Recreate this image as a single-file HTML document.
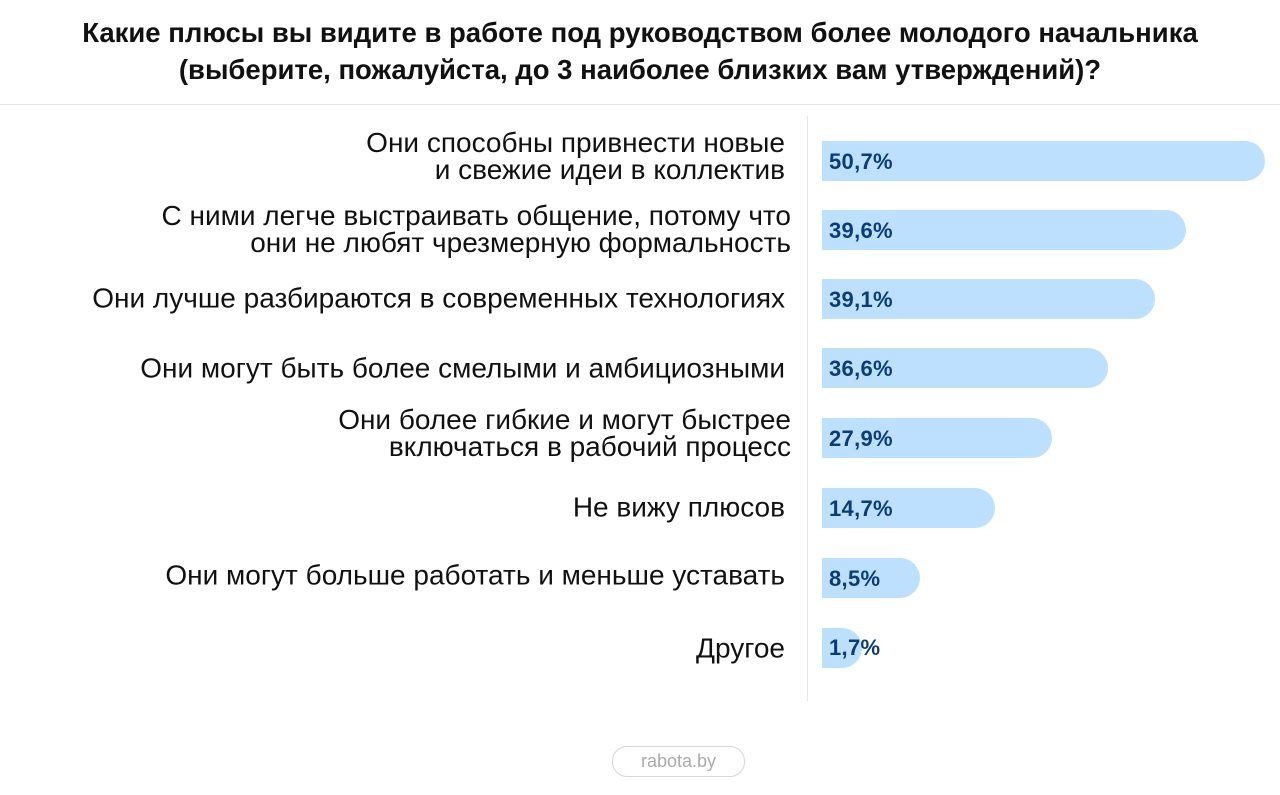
<!DOCTYPE html>
<html><head><meta charset="utf-8"><style>
body{margin:0;width:1280px;height:795px;background:#fff;font-family:"Liberation Sans",sans-serif;position:relative;overflow:hidden}
.t{position:absolute;left:0;width:1280px;text-align:center;font-weight:bold;font-size:27.5px;color:#111;line-height:37px;top:14px;letter-spacing:0px}
.sep{position:absolute;left:0;top:104px;width:1280px;height:1px;background:#e6e6e6}
.vl{position:absolute;left:807px;top:116px;width:1px;height:585px;background:#e4e4e4}
.lab{position:absolute;right:495px;text-align:right;font-size:28px;line-height:27px;color:#111;transform:translateY(-50%);white-space:nowrap;letter-spacing:0px}
.bar{position:absolute;left:822px;height:40px;background:#bde0fe;border-radius:0 20px 20px 0;transform:translateY(-50%)}
.v{position:absolute;left:829px;font-weight:bold;font-size:22px;color:#0b3c78;transform:translateY(-50%);line-height:24px;letter-spacing:0.3px}
.pill{position:absolute;left:612px;top:746px;width:131px;height:29px;border:1px solid #d6d6d6;border-radius:15px;text-align:center;line-height:29px;font-size:18px;color:#aaa}
</style></head><body>
<div class="t">Какие плюсы вы видите в работе под руководством более молодого начальника<br>(выберите, пожалуйста, до 3 наиболее близких вам утверждений)?</div>
<div class="sep"></div><div class="vl"></div>

<div class="lab" style="top:156px">Они способны привнести новые<br>и свежие идеи в коллектив</div>
<div class="bar" style="top:161px;width:443px"></div><div class="v" style="top:162px">50,7%</div>

<div class="lab" style="top:229px;right:489px">С ними легче выстраивать общение, потому что<br>они не любят чрезмерную формальность</div>
<div class="bar" style="top:230px;width:364px"></div><div class="v" style="top:231px">39,6%</div>

<div class="lab" style="top:298px">Они лучше разбираются в современных технологиях</div>
<div class="bar" style="top:299px;width:333px"></div><div class="v" style="top:300px">39,1%</div>

<div class="lab" style="top:368px">Они могут быть более смелыми и амбициозными</div>
<div class="bar" style="top:368px;width:286px"></div><div class="v" style="top:369px">36,6%</div>

<div class="lab" style="top:433px;right:489px">Они более гибкие и могут быстрее<br>включаться в рабочий процесс</div>
<div class="bar" style="top:438px;width:230px"></div><div class="v" style="top:439px">27,9%</div>

<div class="lab" style="top:507px">Не вижу плюсов</div>
<div class="bar" style="top:508px;width:173px"></div><div class="v" style="top:509px">14,7%</div>

<div class="lab" style="top:575px">Они могут больше работать и меньше уставать</div>
<div class="bar" style="top:578px;width:98px"></div><div class="v" style="top:579px">8,5%</div>

<div class="lab" style="top:648px">Другое</div>
<div class="bar" style="top:648px;width:40px"></div><div class="v" style="top:648px">1,7%</div>

<div class="pill">rabota.by</div>
</body></html>
